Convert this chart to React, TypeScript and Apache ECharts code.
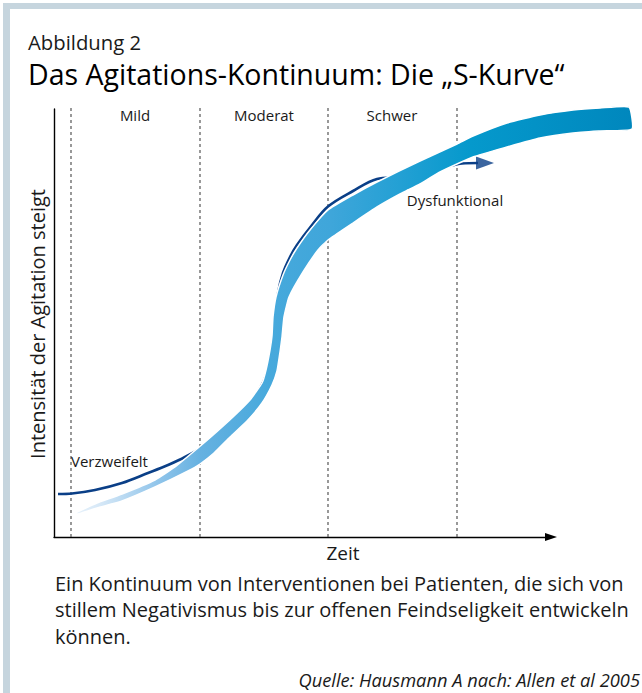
import React, { useEffect, useRef } from "react";
import * as echarts from "echarts";

// Values (x: time, y: intensity; origin at the axes' corner)
const ribbonUpper: [number, number][] = [
  [21, 24], [34, 30], [43, 34], [68, 43], [101, 57], [121, 70], [144, 89], [158, 101],
  [179, 120], [196, 137], [208, 154], [212, 167], [216, 187], [218, 201], [219, 220],
  [222, 240], [229, 262], [236, 277], [243, 289], [256, 307], [274, 327], [299, 342],
  [323, 355], [366, 376], [403, 393], [419, 401], [453, 414], [486, 422], [519, 427],
  [546, 429], [575, 430],
];
const ribbonLower: [number, number][] = [
  [578, 408], [546, 406], [519, 404], [486, 399], [453, 390], [419, 380], [386, 365],
  [366, 353], [346, 343], [323, 330], [299, 314], [274, 297], [264, 287], [249, 265],
  [235, 240], [230, 220], [228, 200], [226, 185], [223, 166], [218, 152], [208, 134],
  [193, 116], [176, 100], [160, 84], [146, 73], [134, 66], [101, 50], [68, 36],
  [43, 29], [34, 26], [24, 23],
];
const darkLine: [number, number][] = [
  [4, 43], [18, 43.5], [41, 47], [68, 54], [94, 64], [114, 72], [131, 80], [158, 96],
  [186, 122], [204, 145], [214, 167], [219, 192], [221, 217], [224, 244], [229, 264],
  [236, 280], [243, 292], [258, 312], [274, 330.5], [299, 346], [323, 358], [346, 360],
  [376, 365], [396, 371], [408, 373.5], [424, 374],
];
const arrowHead: [number, number][] = [[431, 374]];
const phaseBounds: number[] = [17, 146, 274, 403];
const phaseLabels: string[] = ["Mild", "Moderat", "Schwer"];
const captionLines: string[] = [
  "Ein Kontinuum von Interventionen bei Patienten, die sich von",
  "stillem Negativismus bis zur offenen Feindseligkeit entwickeln",
  "können.",
];

const FONT = "'Open Sans', 'Noto Sans', sans-serif";
const TXT = "#1a1a1a";

export default function App() {
  const ref = useRef<HTMLDivElement>(null);
  useEffect(() => {
    document.body.style.margin = "0";
    const chart = echarts.init(ref.current!, null, { renderer: "svg" });
    const gradient = new echarts.graphic.LinearGradient(0, 0, 1, 0, [
      { offset: 0, color: "#e8f2fb" },
      { offset: 0.045, color: "#d6e8f7" },
      { offset: 0.144, color: "#93c6eb" },
      { offset: 0.224, color: "#66b1e1" },
      { offset: 0.35, color: "#47a9dc" },
      { offset: 0.458, color: "#3fa6da" },
      { offset: 0.583, color: "#23a0d4" },
      { offset: 0.709, color: "#0599cc" },
      { offset: 1, color: "#0087bd" },
    ]);
    const labelCenters = [135, 264, 392];
    const graphics: any[] = [
      { type: "rect", z: 0, shape: { x: 3, y: 3, width: 639, height: 6 }, style: { fill: "#c6d5de" } },
      { type: "rect", z: 0, shape: { x: 3, y: 3, width: 7, height: 690 }, style: { fill: "#c6d5de" } },
      { type: "text", z: 100, x: 28, y: 41.5, style: { text: "Abbildung 2", font: `20.3px ${FONT}`, lineHeight: 22, fill: TXT, verticalAlign: "middle" } },
      { type: "text", z: 100, x: 28, y: 74, style: { text: "Das Agitations-Kontinuum: Die „S-Kurve“", font: `28.5px ${FONT}`, lineHeight: 30, fill: "#000", verticalAlign: "middle" } },
      ...phaseLabels.map((t, i) => ({
        type: "text", z: 100, x: labelCenters[i], y: 115,
        style: { text: t, font: `15px ${FONT}`, fill: TXT, align: "center", verticalAlign: "middle" },
      })),
      { type: "text", z: 100, x: 455, y: 200, style: { text: "Dysfunktional", font: `15px ${FONT}`, fill: TXT, align: "center", verticalAlign: "middle", backgroundColor: "#fff", padding: [3, 0] } },
      { type: "text", z: 100, x: 71, y: 461, style: { text: "Verzweifelt", font: `15px ${FONT}`, fill: TXT, verticalAlign: "middle" } },
      { type: "text", z: 100, x: 37, y: 324, rotation: Math.PI / 2, style: { text: "Intensität der Agitation steigt", font: `20px ${FONT}`, fill: TXT, align: "center", verticalAlign: "middle" } },
      { type: "text", z: 100, x: 343, y: 553, style: { text: "Zeit", font: `19px ${FONT}`, fill: TXT, align: "center", verticalAlign: "middle" } },
      ...captionLines.map((t, i) => ({
        type: "text", z: 100, x: 55, y: 583 + i * 26.5,
        style: { text: t, font: `20px ${FONT}`, lineHeight: 22, fill: TXT, verticalAlign: "middle" },
      })),
      { type: "text", z: 100, x: 640, y: 679, style: { text: "Quelle: Hausmann A nach: Allen et al 2005", font: `italic 18.3px ${FONT}`, fill: TXT, align: "right", verticalAlign: "middle" } },
    ];
    chart.setOption({
      animation: false,
      backgroundColor: "#fff",
      grid: { left: 54, top: 109, width: 497, height: 428 },
      xAxis: {
        type: "value", min: 0, max: 497,
        axisLine: { show: true, symbol: ["none", "triangle"], symbolSize: [8, 12], lineStyle: { color: "#000", width: 1.4 } },
        axisTick: { show: false }, axisLabel: { show: false }, splitLine: { show: false },
      },
      yAxis: {
        type: "value", min: 0, max: 428,
        axisLine: { show: true, lineStyle: { color: "#000", width: 1.4 } },
        axisTick: { show: false }, axisLabel: { show: false }, splitLine: { show: false },
      },
      graphic: graphics,
      series: [
        {
          type: "custom", z: 1, data: phaseBounds.map((x) => [x, 0]),
          renderItem: (_p: any, api: any) => {
            const x = api.value(0);
            const a = api.coord([x, 0]);
            const b = api.coord([x, 432]);
            return {
              type: "line",
              shape: { x1: a[0], y1: a[1], x2: b[0], y2: b[1] },
              style: { stroke: "#555", lineWidth: 1.2, lineDash: [3, 3] },
            };
          },
        },
        {
          type: "line", z: 2, data: darkLine, smooth: 0.35, symbol: "none",
          lineStyle: { color: "#0a3f87", width: 2.6 },
        },
        {
          type: "scatter", z: 2, data: arrowHead, symbol: "triangle",
          symbolSize: [13, 18], symbolRotate: -90, itemStyle: { color: "#0a3f87" },
        },
        {
          type: "custom", z: 3, data: [[0, 0]],
          renderItem: (_p: any, api: any) => {
            const pts = [...ribbonUpper, ...ribbonLower].map((p) => api.coord(p));
            return {
              type: "polygon",
              shape: { points: pts, smooth: 0.15 },
              style: { fill: gradient, stroke: "#fff", lineWidth: 1.5 },
            };
          },
        },
      ],
    });
    return () => chart.dispose();
  }, []);
  return <div ref={ref} style={{ width: 642, height: 693 }} />;
}
